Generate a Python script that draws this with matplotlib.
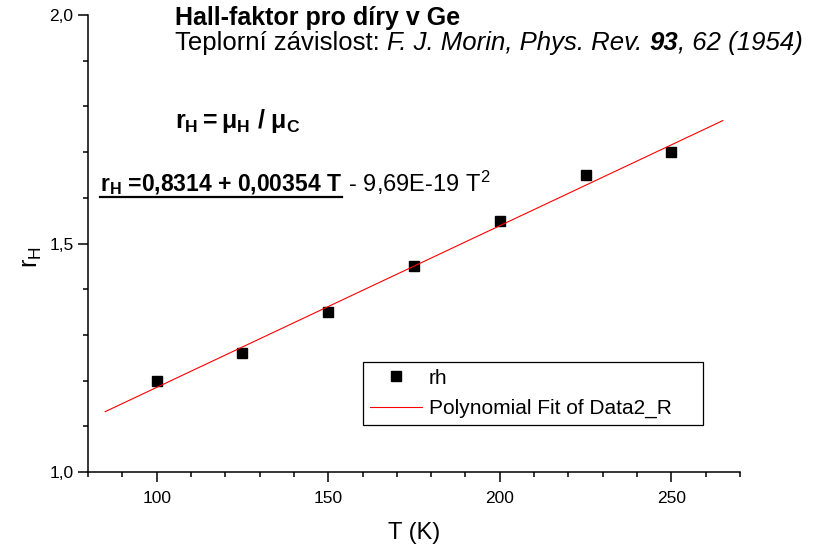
import matplotlib
matplotlib.use("Agg")
import matplotlib.pyplot as plt
from matplotlib.ticker import MultipleLocator, FuncFormatter
from matplotlib.lines import Line2D

plt.rcParams['font.family'] = ['Liberation Sans', 'DejaVu Sans']
plt.rcParams['mathtext.fontset'] = 'custom'
plt.rcParams['mathtext.rm'] = 'Liberation Sans'
plt.rcParams['mathtext.it'] = 'Liberation Sans:italic'
plt.rcParams['mathtext.bf'] = 'Liberation Sans:bold'

# data
T = [100, 125, 150, 175, 200, 225, 250]
rh = [1.20, 1.26, 1.35, 1.45, 1.55, 1.65, 1.70]
# ends of the fitted line
fit_T = [85, 265]
fit_r = [1.132, 1.769]

fig = plt.figure(figsize=(8.24, 5.48), dpi=100)
ax = fig.add_axes([0.1068, 0.1387, 0.7913, 0.8339])

ax.plot(T, rh, 's', color='black', markersize=7.5, label='rh')
ax.plot(fit_T, fit_r, '-', color='red', lw=0.8, label='Polynomial Fit of Data2_R')

ax.set_xlim(80, 270)
ax.set_ylim(1.0, 2.0)
ax.spines['top'].set_visible(False)
ax.spines['right'].set_visible(False)
for s in ('left', 'bottom'):
    ax.spines[s].set_linewidth(1.1)
ax.xaxis.set_major_locator(MultipleLocator(50))
ax.xaxis.set_minor_locator(MultipleLocator(10))
ax.yaxis.set_major_locator(MultipleLocator(0.5))
ax.yaxis.set_minor_locator(MultipleLocator(0.1))
ax.yaxis.set_major_formatter(FuncFormatter(lambda v, p: f"{v:.1f}".replace('.', ',')))
ax.tick_params(which='major', direction='out', length=7, width=1.1, labelsize=12.5)
ax.tick_params(axis='x', which='major', pad=6.5)
ax.tick_params(which='minor', direction='out', length=3.6, width=1.1)
ax.set_xlabel('T (K)', fontsize=17, labelpad=12)
ax.set_ylabel(r'$\mathrm{r_H}$', fontsize=18)
ax.yaxis.set_label_coords(-0.068, 0.47)

leg = ax.legend(loc='upper left', bbox_to_anchor=(275/652, 110/457, 340/652, 0),
                mode='expand', fontsize=15,
                fancybox=False, edgecolor='black', framealpha=1,
                handlelength=2.5, handletextpad=0.35, borderpad=0.32,
                labelspacing=0.54, borderaxespad=0)
leg.get_frame().set_linewidth(0.9)


def chain(first, parts):
    # place text pieces one after another on the same baseline
    prev = first
    for s, st, wt, sz in parts:
        prev = ax.annotate(s, xy=(1, 0), xycoords=prev, va='bottom', ha='left',
                           fontsize=sz, style=st, fontweight=wt)
    return prev


fig.text(175/824, 1 - 25/548, 'Hall-faktor pro díry v Ge', fontsize=18,
         fontweight='bold', va='baseline')
t1 = fig.text(175/824, 1 - 50/548, 'Teplorní závislost: ', fontsize=18.5,
              va='baseline')
chain(t1, [('F. J. Morin, Phys. Rev. ', 'italic', 'normal', 18.5),
           ('93', 'italic', 'bold', 18.5),
           (', 62 (1954)', 'italic', 'normal', 18.5)])

fig.text(175/824, 1 - 128/548, r'$\mathbf{r_H = μ_H\ /\ μ_C}$', fontsize=18,
         va='baseline')

eq = fig.text(100/824, 1 - 191/548, r'$\mathbf{r_H}$' + ' =0,8314 + 0,00354 T',
              fontsize=16.5, fontweight='bold', va='baseline')
chain(eq, [(' - 9,69E-19 T$^2$', 'normal', 'normal', 17)])

fig.canvas.draw()
bb = eq.get_window_extent().transformed(fig.transFigure.inverted())
y_ul = 1 - 197/548
fig.add_artist(Line2D([bb.x0, bb.x1], [y_ul, y_ul],
                      transform=fig.transFigure, color='black', lw=1.6))

fig.savefig('out.png', dpi=100)
